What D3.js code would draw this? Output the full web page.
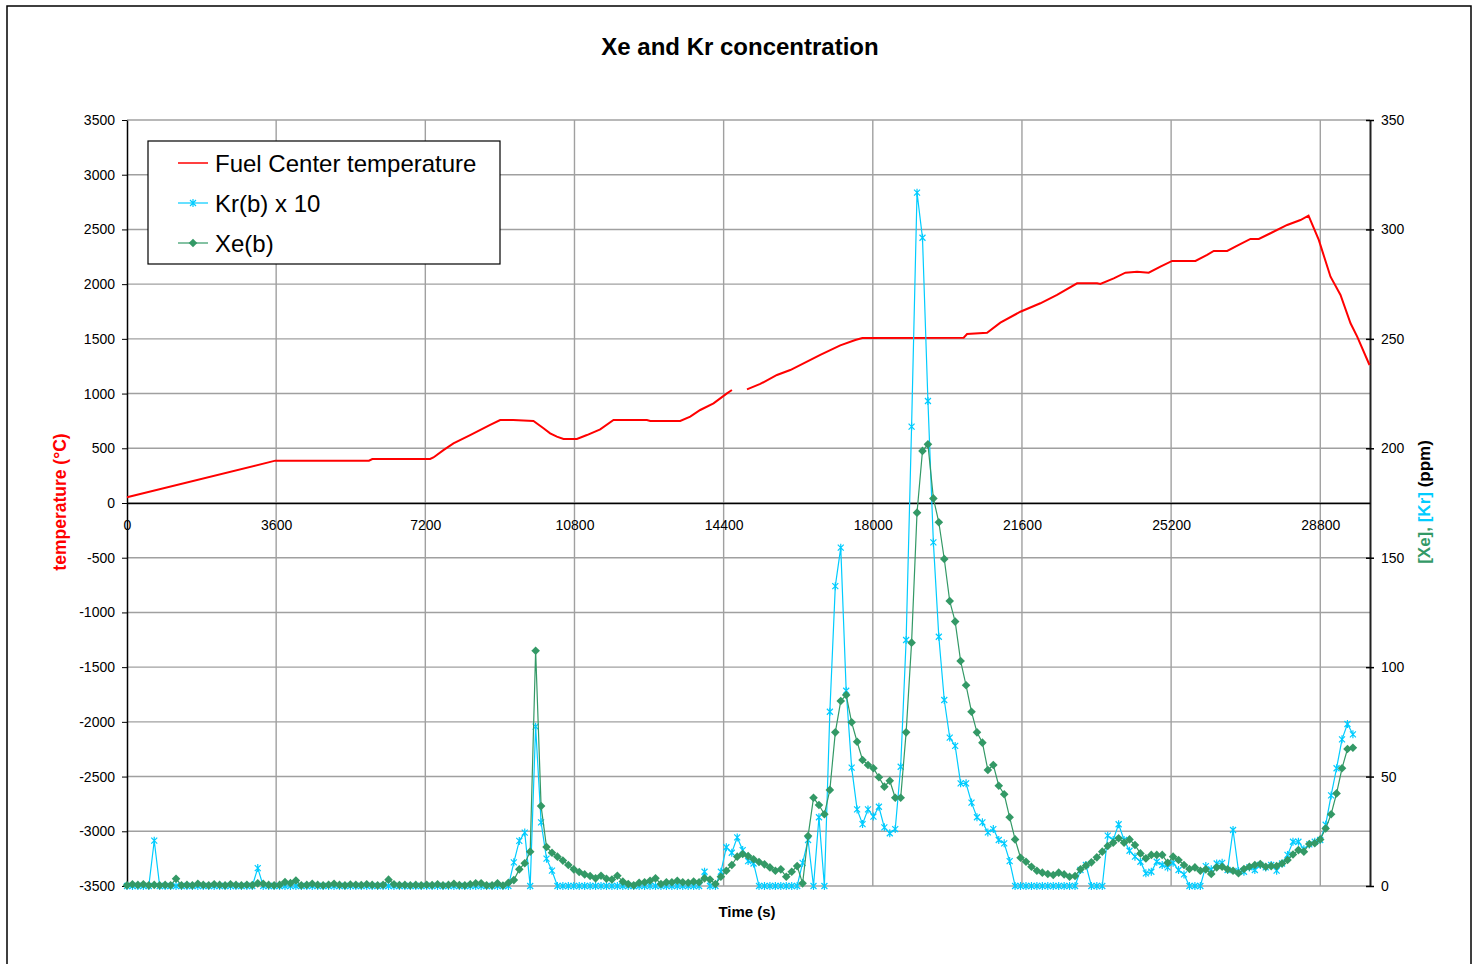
<!DOCTYPE html>
<html lang="en">
<head>
    <meta charset="UTF-8">
    <title>Xe and Kr concentration</title>
    <script src="https://cdn.jsdelivr.net/npm/d3@7/dist/d3.min.js"></script>
    <style>
        body { margin: 0; background: #fff; }
        svg { display: block; font-family: 'Liberation Sans', Arial, sans-serif; }
    </style>
</head>
<body>
    <script>
        //gas sampling interval (s)
        var sampleStep = 131.5;

        //Xe(b) in ppm, one value per sample
        var xeB = [
            0.3, 0.8, 0.5, 0.8, 0.3, 0.5, 0.3, 0.5, 0.3, 3.3,
            0.3, 0.5, 0.3, 1.0, 0.5, 0.3, 0.8, 0.5, 0.3, 0.8,
            0.5, 0.3, 0.6, 0.4, 1.2, 1.0, 0.5, 0.3, 0.5, 1.8,
            1.3, 2.5, 0.3, 0.5, 1.0, 0.5, 0.3, 0.6, 1.0, 0.5,
            0.3, 0.7, 0.6, 0.4, 0.8, 0.5, 0.3, 0.5, 2.9, 0.8,
            0.4, 0.5, 0.3, 0.5, 0.3, 0.6, 0.4, 0.8, 0.3, 0.5,
            1.0, 0.4, 0.3, 0.8, 1.2, 1.2, 0.3, 0.3, 1.2, 0.2,
            1.5, 2.7, 7.6, 10.4, 15.7, 107.5, 36.5, 17.8, 15.2, 13.4,
            11.6, 9.6, 7.6, 6.4, 5.3, 4.6, 3.5, 4.7, 3.3, 3.0,
            4.7, 2.0, 0.9, 0.3, 1.5, 1.7, 2.4, 3.5, 0.9, 1.7,
            1.7, 2.4, 1.7, 1.5, 2.0, 1.7, 3.5, 3.0, 0.9, 4.2,
            7.0, 9.6, 13.4, 14.6, 13.7, 12.2, 11.0, 9.9, 8.5, 7.0,
            7.6, 4.2, 6.5, 9.1, 1.2, 22.8, 40.3, 37.0, 32.8, 43.9,
            70.2, 84.5, 87.3, 74.8, 65.9, 57.6, 55.3, 53.8, 49.7, 45.4,
            48.1, 40.3, 40.3, 70.2, 111.2, 170.6, 198.8, 201.8, 177.1, 166.2,
            149.4, 130.2, 120.8, 102.8, 91.7, 79.6, 70.2, 65.5, 53.0, 55.3,
            45.8, 41.9, 31.4, 21.3, 12.9, 11.1, 8.8, 7.0, 6.1, 5.5,
            5.0, 6.1, 5.3, 4.2, 4.6, 7.6, 9.3, 10.8, 13.1, 15.7,
            18.3, 19.8, 21.8, 19.8, 21.3, 18.7, 14.9, 12.6, 14.2, 14.2,
            14.2, 10.6, 13.4, 11.9, 9.6, 7.8, 8.5, 7.0, 7.6, 5.5,
            8.5, 8.8, 7.6, 7.0, 5.8, 7.8, 8.8, 9.6, 10.0, 8.8,
            9.1, 9.1, 10.3, 11.9, 14.4, 16.4, 15.7, 19.2, 19.5, 21.3,
            26.3, 32.8, 42.3, 53.8, 62.6, 63.2
        ];

        //Kr(b) x 10 in ppm, same samples
        var krB10 = [
            0, 0, 0, 0, 0, 20.7, 0, 0, 0, 0,
            0, 0, 0, 0, 0, 0, 0, 0, 0, 0,
            0, 0, 0, 0, 8.2, 0, 0, 0, 0, 0,
            0, 0, 0, 0, 0, 0, 0, 0, 0, 0,
            0, 0, 0, 0, 0, 0, 0, 0, 0, 0,
            0, 0, 0, 0, 0, 0, 0, 0, 0, 0,
            0, 0, 0, 0, 0, 0, 0, 0, 0, 0,
            0, 10.8, 20.6, 24.4, 0, 72.8, 29.1, 12.5, 7.0, 0,
            0, 0, 0, 0, 0, 0, 0, 0, 0, 0,
            0, 0, 0, 0, 0, 0, 0, 0, 0, 0,
            0, 0, 0, 0, 0, 0, 6.5, 0, 0, 6.5,
            17.7, 15.2, 22.2, 16.4, 11.4, 10.3, 0, 0, 0, 0,
            0, 0, 0, 0, 10.6, 21, 0, 31.4, 0, 79.6,
            137, 154.6, 89.2, 54.1, 35, 28.3, 35, 31.7, 36.2, 26.8,
            24.1, 26, 54.5, 112.4, 209.9, 316.8, 296.2, 221.6, 157, 113.9,
            85, 67.8, 64, 46.9, 46.9, 38.1, 31.4, 29.1, 24.5, 26,
            21, 19.5, 11.4, 0, 0, 0, 0, 0, 0, 0,
            0, 0, 0, 0, 0, 7.3, 9.6, 0, 0, 0,
            23, 21, 28.2, 21, 16.1, 13.4, 11.1, 5.8, 6.5, 11.1,
            9.6, 8.5, 10.6, 7.3, 5.3, 0, 0, 0, 9.1, 7.6,
            10.3, 10.6, 7.3, 25.6, 6.9, 6.5, 8.5, 7.3, 9.6, 8.5,
            9.6, 7.0, 10.3, 14.2, 20.2, 20.2, 16.8, 19, 20.2, 21,
            28, 41.4, 53.8, 67, 74, 69.3
        ];

        //fuel center temperature (null = no data)
        var tempTime = [0, 3580, 5840, 5920, 7316, 7396, 7637, 7879, 8282, 8765,
            9006, 9320, 9810, 10052, 10213, 10375, 10535, 10858, 11100, 11421,
            11742, 12548, 12628, 13352, 13594, 13835, 14156, 14480, 14600, 14780,
            14963, 15284, 15687, 16008, 16733, 17215, 17578, 17747, 20193, 20275,
            20758, 21079, 21561, 22044, 22447, 22930, 23413, 23493, 23815, 24097,
            24379, 24659, 24942, 25224, 25787, 26069, 26229, 26553, 26833, 27115,
            27316, 27598, 28001, 28322, 28516, 28764, 29047, 29288, 29530, 29691,
            29988];
        var tempC = [52, 387, 387, 402, 402, 416, 483, 544, 621, 713,
            758, 758, 749, 683, 637, 606, 585, 585, 621, 673,
            758, 758, 749, 749, 789, 850, 911, 1002, 1033, null,
            1039, 1088, 1170, 1215, 1353, 1440, 1490, 1508, 1511, 1544,
            1556, 1648, 1748, 1825, 1901, 2008, 2008, 2001, 2053, 2105,
            2114, 2105, 2160, 2212, 2212, 2267, 2303, 2303, 2358, 2413,
            2413, 2465, 2541, 2586, 2626, 2404, 2068, 1901, 1642, 1520,
            1261];

        //tick labels
        var timeTicks = [0, 3600, 7200, 10800, 14400, 18000, 21600, 25200, 28800];
        var tempTicks = [-3500, -3000, -2500, -2000, -1500, -1000, -500, 0, 500, 1000, 1500, 2000, 2500, 3000, 3500];
        var ppmTicks = [0, 50, 100, 150, 200, 250, 300, 350];

        //width and height
        var w = 1474;
        var h = 964;
        var plotLeft = 127, plotRight = 1370, plotTop = 120, plotBottom = 886;

        var red = '#ff0000';
        var cyan = '#00ccff';
        var green = '#339966';
        var grid = '#a0a0a0';

        //plain labels, hyphen minus like the original
        var plain = function(d) { return String(d); };

        //scales
        var xScale = d3.scaleLinear().domain([0, 30000]).range([plotLeft, plotRight]);
        var yTemp = d3.scaleLinear().domain([-3500, 3500]).range([plotBottom, plotTop]);
        var yPpm = d3.scaleLinear().domain([0, 350]).range([plotBottom, plotTop]);

        //create svg
        var svg = d3.select('body')
                    .append('svg')
                    .attr('width', w)
                    .attr('height', h);

        //outer frame
        svg.append('rect')
            .attr('x', 7).attr('y', 6)
            .attr('width', 1464).attr('height', 980)
            .attr('fill', 'white')
            .attr('stroke', '#000')
            .attr('stroke-width', 1.5);

        //gridlines
        svg.append('g').selectAll('line')
            .data(tempTicks)
            .enter()
            .append('line')
            .attr('x1', plotLeft).attr('x2', plotRight)
            .attr('y1', function(d) { return yTemp(d); })
            .attr('y2', function(d) { return yTemp(d); })
            .attr('stroke', grid)
            .attr('stroke-width', 1.4);

        svg.append('g').selectAll('line')
            .data(timeTicks.slice(1))
            .enter()
            .append('line')
            .attr('x1', function(d) { return xScale(d); })
            .attr('x2', function(d) { return xScale(d); })
            .attr('y1', plotTop).attr('y2', plotBottom)
            .attr('stroke', grid)
            .attr('stroke-width', 1.4);

        //left axis
        var leftAxis = svg.append('g')
            .attr('transform', 'translate(' + plotLeft + ',0)')
            .call(d3.axisLeft(yTemp).tickValues(tempTicks).tickFormat(plain)
                .tickSize(5).tickSizeOuter(0).tickPadding(7));
        leftAxis.select('.domain').attr('stroke', '#000').attr('stroke-width', 1.5);

        //right axis, ticks cross the line
        var rightAxis = svg.append('g')
            .attr('transform', 'translate(' + plotRight + ',0)')
            .call(d3.axisRight(yPpm).tickValues(ppmTicks).tickFormat(plain)
                .tickSize(4).tickSizeOuter(0).tickPadding(7));
        rightAxis.selectAll('.tick line').attr('x1', -4).attr('stroke-width', 1.5);
        rightAxis.select('.domain').attr('stroke', '#222').attr('stroke-width', 2);

        //x axis sits on 0 degC
        var xAxis = svg.append('g')
            .attr('transform', 'translate(0,' + yTemp(0) + ')')
            .call(d3.axisBottom(xScale).tickValues(timeTicks).tickFormat(plain)
                .tickSize(0).tickSizeOuter(0).tickPadding(17));
        xAxis.select('.domain').attr('stroke', '#000').attr('stroke-width', 1.5);

        svg.selectAll('.tick text')
            .attr('font-family', "'Liberation Sans', Arial, sans-serif")
            .attr('font-size', '14px')
            .attr('fill', '#000');

        //temperature line
        var tempLine = d3.line()
            .defined(function(i) { return tempC[i] != null; })
            .x(function(i) { return xScale(tempTime[i]); })
            .y(function(i) { return yTemp(tempC[i]); });

        svg.append('path')
            .datum(d3.range(tempC.length))
            .attr('d', tempLine)
            .attr('fill', 'none')
            .attr('stroke', red)
            .attr('stroke-width', 2);

        //gas lines
        function gasLine(values) {
            return d3.line()
                .x(function(d, i) { return xScale(i * sampleStep); })
                .y(function(d) { return yPpm(d); })(values);
        }

        var starPath = 'M-3,-3L3,3M-3,3L3,-3M0,-4L0,4';
        var diamondPath = 'M0,-4.3L4.3,0L0,4.3L-4.3,0Z';

        svg.append('path')
            .attr('d', gasLine(krB10))
            .attr('fill', 'none')
            .attr('stroke', cyan)
            .attr('stroke-width', 1.2);

        svg.append('g').selectAll('path')
            .data(krB10)
            .enter()
            .append('path')
            .attr('transform', function(d, i) {
                return 'translate(' + xScale(i * sampleStep) + ',' + yPpm(d) + ')';
            })
            .attr('d', starPath)
            .attr('fill', 'none')
            .attr('stroke', cyan)
            .attr('stroke-width', 1.2);

        svg.append('path')
            .attr('d', gasLine(xeB))
            .attr('fill', 'none')
            .attr('stroke', green)
            .attr('stroke-width', 1.2);

        svg.append('g').selectAll('path')
            .data(xeB)
            .enter()
            .append('path')
            .attr('transform', function(d, i) {
                return 'translate(' + xScale(i * sampleStep) + ',' + yPpm(d) + ')';
            })
            .attr('d', diamondPath)
            .attr('fill', green);

        //titles
        svg.append('text')
            .text('Xe and Kr concentration')
            .attr('x', 740).attr('y', 55)
            .attr('text-anchor', 'middle')
            .attr('font-weight', 'bold')
            .attr('font-size', '24px');

        svg.append('text')
            .text('Time (s)')
            .attr('x', 747).attr('y', 917)
            .attr('text-anchor', 'middle')
            .attr('font-weight', 'bold')
            .attr('font-size', '15px');

        svg.append('text')
            .text('temperature (°C)')
            .attr('transform', 'translate(66,502) rotate(-90)')
            .attr('text-anchor', 'middle')
            .attr('font-weight', 'bold')
            .attr('font-size', '17.5px')
            .attr('fill', red);

        var ppmTitle = svg.append('text')
            .attr('transform', 'translate(1430,502) rotate(-90)')
            .attr('text-anchor', 'middle')
            .attr('font-weight', 'bold')
            .attr('font-size', '17px');
        ppmTitle.append('tspan').text('[Xe],').attr('fill', green);
        ppmTitle.append('tspan').text(' [Kr]').attr('fill', cyan);
        ppmTitle.append('tspan').text(' (ppm)').attr('fill', '#000');

        //legend
        var legend = svg.append('g');
        legend.append('rect')
            .attr('x', 148).attr('y', 141)
            .attr('width', 352).attr('height', 123)
            .attr('fill', 'white')
            .attr('stroke', '#000')
            .attr('stroke-width', 1.2);

        var legendItems = [
            {name: 'Fuel Center temperature', color: red, marker: null},
            {name: 'Kr(b) x 10', color: cyan, marker: starPath},
            {name: 'Xe(b)', color: green, marker: diamondPath}
        ];

        legendItems.forEach(function(item, i) {
            var cy = 163 + i * 40;
            legend.append('line')
                .attr('x1', 178).attr('x2', 208)
                .attr('y1', cy).attr('y2', cy)
                .attr('stroke', item.color)
                .attr('stroke-width', item.marker ? 1.2 : 1.5);
            if (item.marker) {
                legend.append('path')
                    .attr('transform', 'translate(193,' + cy + ')')
                    .attr('d', item.marker)
                    .attr('fill', item.marker === diamondPath ? item.color : 'none')
                    .attr('stroke', item.color)
                    .attr('stroke-width', item.marker === diamondPath ? 0 : 1.2);
            }
            legend.append('text')
                .text(item.name)
                .attr('x', 215).attr('y', cy + 8.5)
                .attr('font-size', '24px');
        });
    </script>
</body>
</html>
